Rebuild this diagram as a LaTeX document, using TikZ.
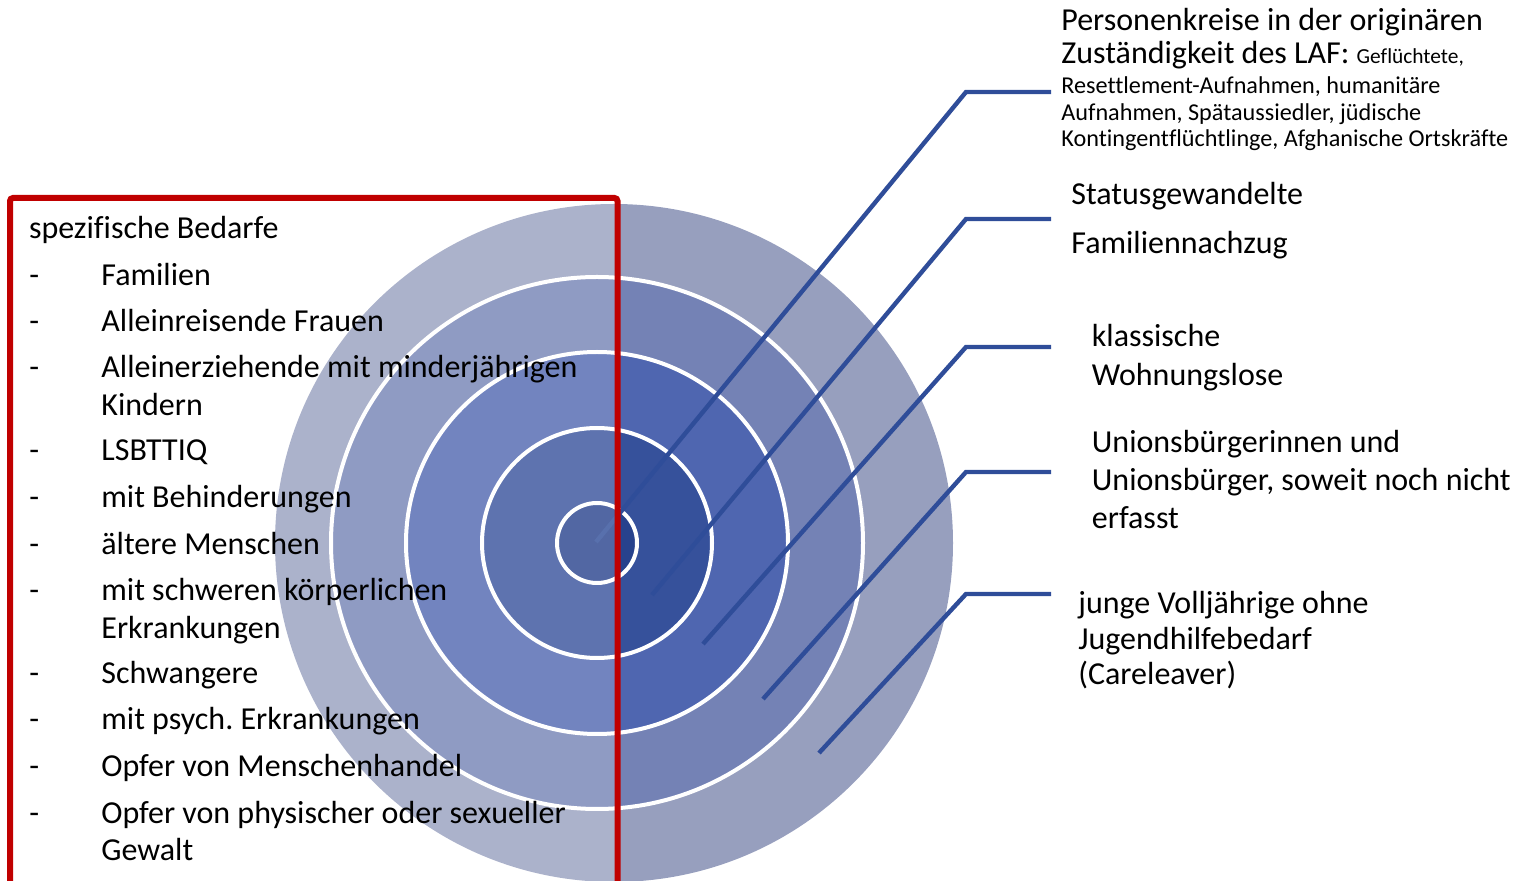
\documentclass[tikz,border=0pt]{standalone}
\usepackage{fontspec}
\setmainfont{Carlito}[Ligatures={NoCommon}]
\usepackage{tikz}

\definecolor{ringA}{HTML}{979FBE}
\definecolor{ringB}{HTML}{7482B5}
\definecolor{ringC}{HTML}{4F66B0}
\definecolor{ringD}{HTML}{36519B}
\definecolor{ringE}{HTML}{27428D}
\definecolor{connblue}{HTML}{2F4D99}
\definecolor{boxred}{HTML}{C00000}

\newcommand{\bigfont}{\fontsize{16}{19}\selectfont}
\newcommand{\smallfont}{\fontsize{12.1}{14}\selectfont}
\newcommand{\tinyfont}{\fontsize{10.7}{13}\selectfont}

\begin{document}
\frenchspacing
\begin{tikzpicture}[x=0.5pt, y=-0.5pt,
    ring/.style={draw=white, line width=2pt},
    conn/.style={draw=connblue, line width=2.2pt},
    txt/.style={anchor=base west, inner sep=0pt, font=\bigfont},
    small/.style={anchor=base west, inner sep=0pt, font=\smallfont}]
  \useasboundingbox (0,0) rectangle (1522,881);
  \clip (0,0) rectangle (1522,881);

  % the rings
  \fill[ringA] (614,543) circle[radius=339];
  \filldraw[ring, fill=ringB] (597,543) circle[radius=266];
  \filldraw[ring, fill=ringC] (597,543) circle[radius=191];
  \filldraw[ring, fill=ringD] (597,543) circle[radius=115];
  \filldraw[ring, fill=ringE] (597,543) circle[radius=40];

  % connectors
  \coordinate (s1) at (596,542);  \coordinate (k1) at (966,92);  \coordinate (e1) at (1051,92);
  \coordinate (s2) at (652,595);  \coordinate (k2) at (966,219); \coordinate (e2) at (1051,219);
  \coordinate (s3) at (703,644);  \coordinate (k3) at (966,347); \coordinate (e3) at (1051,347);
  \coordinate (s4) at (763,699);  \coordinate (k4) at (966,472); \coordinate (e4) at (1051,472);
  \coordinate (s5) at (819,753);  \coordinate (k5) at (966,594); \coordinate (e5) at (1051,594);
  \draw[conn] (s1) -- (k1) -- (e1);
  \draw[conn] (s2) -- (k2) -- (e2);
  \draw[conn] (s3) -- (k3) -- (e3);
  \draw[conn] (s4) -- (k4) -- (e4);
  \draw[conn] (s5) -- (k5) -- (e5);

  % box with specific needs
  \filldraw[draw=boxred, fill=white, fill opacity=0.2, line width=3pt, rounded corners=1.5pt]
    (10,198) rectangle (617.5,886);

  \node[txt] (head) at (28.6,238.5) {spezifische Bedarfe};
  \node[txt] (d1) at (29,285.5) {-};   \node[txt] (fam) at (101,285.5) {Familien};
  \node[txt] (d2) at (29,331.5) {-};   \node[txt] (frau) at (101,331.5) {Alleinreisende Frauen};
  \node[txt] (d3) at (29,377.5) {-};   \node[txt] (erz) at (101,377.5) {Alleinerziehende mit minderjährigen};
                                       \node[txt] (kind) at (101,415.5) {Kindern};
  \node[txt] (d4) at (29,460.5) {-};   \node[txt] (lsb) at (101,460.5) {LSBTTIQ};
  \node[txt] (d5) at (29,507.5) {-};   \node[txt] (beh) at (101,507.5) {mit Behinderungen};
  \node[txt] (d6) at (29,554.5) {-};   \node[txt] (alt) at (101,554.5) {ältere Menschen};
  \node[txt] (d7) at (29,600.5) {-};   \node[txt] (koerp) at (101,600.5) {mit schweren körperlichen};
                                       \node[txt] (erk) at (101,638.5) {Erkrankungen};
  \node[txt] (d8) at (29,683.5) {-};   \node[txt] (schw) at (101,683.5) {Schwangere};
  \node[txt] (d9) at (29,729.5) {-};   \node[txt] (psy) at (101,729.5) {mit psych. Erkrankungen};
  \node[txt] (d10) at (29,776.5) {-};  \node[txt] (mh) at (101,776.5) {Opfer von Menschenhandel};
  \node[txt] (d11) at (29,823.5) {-};  \node[txt] (gew) at (101,823.5) {Opfer von physischer oder sexueller};
                                       \node[txt] (gew2) at (101,860.5) {Gewalt};

  % labels on the right
  \node[txt] (laf1) at (1061,31) {Personenkreise in der originären};
  \node[txt] (laf2) at (1061,64) {Zuständigkeit des LAF: {\tinyfont Geflüchtete,}};
  \node[small] (laf3) at (1061,94) {Resettlement-Aufnahmen, humanitäre};
  \node[small] (laf4) at (1061,120.5) {Aufnahmen, Spätaussiedler, jüdische};
  \node[small] (laf5) at (1061,147) {Kontingentflüchtlinge, Afghanische Ortskräfte};

  \node[txt] (stat) at (1071,205) {Statusgewandelte};
  \node[txt] (fn) at (1071,254) {Familiennachzug};

  \node[txt] (wl1) at (1091.5,347) {klassische};
  \node[txt] (wl2) at (1091.5,385.5) {Wohnungslose};

  \node[txt] (ub1) at (1091.5,453) {Unionsbürgerinnen und};
  \node[txt] (ub2) at (1091.5,490.5) {Unionsbürger, soweit noch nicht};
  \node[txt] (ub3) at (1091.5,529) {erfasst};

  \node[txt] (cl1) at (1078,614) {junge Volljährige ohne};
  \node[txt] (cl2) at (1078,649.5) {Jugendhilfebedarf};
  \node[txt] (cl3) at (1078,685) {(Careleaver)};
\end{tikzpicture}
\end{document}
